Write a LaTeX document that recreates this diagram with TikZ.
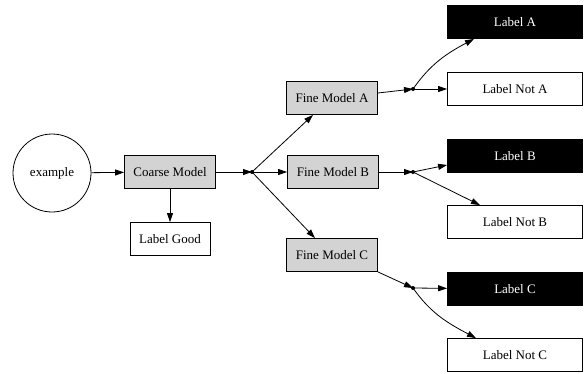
\documentclass[tikz,border=0pt]{standalone}
\usepackage{fontspec}
\setmainfont{Liberation Serif}
\usetikzlibrary{arrows.meta}
\definecolor{gvgray}{HTML}{D3D3D3}
\begin{document}
\begin{tikzpicture}[x=1pt,y=-1pt,
  every node/.style={font=\fontsize{13}{15}\selectfont, inner sep=0pt},
  box/.style={draw=black, line width=0.8pt, rectangle, minimum height=33pt},
  graybox/.style={box, fill=gvgray, minimum width=91pt},
  blackbox/.style={box, fill=black, text=white, minimum width=135pt},
  whitebox/.style={box, fill=white, minimum width=135pt},
  jdot/.style={circle, fill=black, minimum size=4pt},
  conn/.style={line width=0.8pt, -{Triangle[length=9pt,width=6pt]}},
  plain/.style={line width=0.8pt}]
\useasboundingbox (0,0) rectangle (585,373);
\node[draw, circle, line width=0.8pt, minimum size=78pt] (ex) at (52,173) {example};
\node[graybox] (coarse) at (170,172) {Coarse Model};
\node[box, minimum width=80pt] (good) at (170,239) {Label Good};
\node[jdot] (j0) at (252,172) {};
\node[graybox] (fa) at (332,98) {Fine Model A};
\node[graybox] (fb) at (333,172) {Fine Model B};
\node[graybox] (fc) at (332,255) {Fine Model C};
\node[jdot] (ja) at (413,89) {};
\node[jdot] (jb) at (413,172) {};
\node[jdot] (jc) at (413,288) {};
\node[blackbox] (la) at (515,22) {Label A};
\node[whitebox] (lna) at (515,89) {Label Not A};
\node[blackbox] (lb) at (515,156) {Label B};
\node[whitebox] (lnb) at (515,222) {Label Not B};
\node[blackbox] (lc) at (515,289) {Label C};
\node[whitebox] (lnc) at (515,355) {Label Not C};
\draw[conn] (ex) -- (coarse);
\draw[conn] (coarse) -- (good);
\draw[conn] (coarse) -- (j0.center);
\draw[conn] (j0.center) -- (fa.south west -| 313,0);
\draw[conn] (j0.center) -- (fb);
\draw[conn] (j0.center) -- (fc.north west -| 315,0);
\draw[conn] (fa.east |- 0,93) -- (ja.center);
\draw[conn] (fb) -- (jb.center);
\draw[conn] (fc.south east) -- (jc.center);
\draw[conn] (ja.center) to[out=55,in=208] (la.south west -| 474,0);
\draw[conn] (ja.center) -- (lna);
\draw[conn] (jb.center) -- (lb.west |- 0,165);
\draw[conn] (jb.center) -- (lnb.north west -| 480,0);
\draw[conn] (jc.center) -- (lc);
\draw[conn] (jc.center) to[out=-55,in=152] (lnc.north west -| 476,0);
\end{tikzpicture}
\end{document}
